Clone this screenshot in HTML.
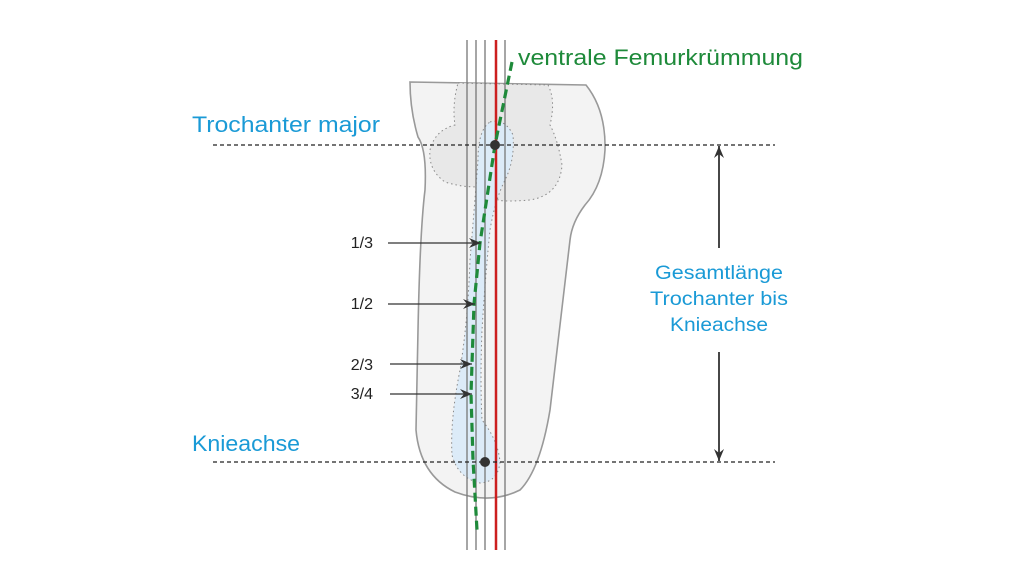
<!DOCTYPE html>
<html><head><meta charset="utf-8"><style>
html,body{margin:0;padding:0;background:#fff;}
svg{display:block;}
text{font-family:"Liberation Sans",sans-serif;}
</style></head><body>
<svg width="1024" height="576" viewBox="0 0 1024 576">
<defs>
<marker id="ah" markerWidth="14" markerHeight="12" refX="12" refY="6" orient="auto" markerUnits="userSpaceOnUse">
<path d="M0,1 L12,6 L0,11 L4,6 Z" fill="#333"/></marker>
</defs>
<path d="M410,82 L586,85 Q606,110 605,150 Q603,185 585,205 Q572,222 570,240 L550,410 Q540,470 520,490 Q490,505 455,492 Q420,475 416,430 L418,330 Q420,230 425,190 Q427,150 418,137 Q410,110 410,82 Z" fill="#f3f3f3" stroke="#999" stroke-width="1.6"/>
<path d="M458,83 L548,85 Q556,100 550,125 Q558,140 562,165 Q560,195 530,200 Q505,202 498,200 L495,185 Q470,190 445,182 Q428,170 430,150 Q435,130 455,125 Q452,105 458,83 Z" fill="#e8e8e8" stroke="#888" stroke-width="1" stroke-dasharray="1.5,3"/>
<path d="M490,122 Q505,118 513,135 Q515,160 505,180 Q495,200 490,230 Q485,280 482,330 Q480,380 482,420 Q498,440 500,462 Q498,482 480,483 Q458,478 452,455 Q450,420 460,370 Q468,320 470,260 Q475,200 478,160 Q478,130 490,122 Z" fill="#dcebf8" stroke="#888" stroke-width="1" stroke-dasharray="1.5,3"/>
<g stroke="#777" stroke-width="1.3">
<line x1="467" y1="40" x2="467" y2="550"/>
<line x1="476" y1="40" x2="476" y2="550"/>
<line x1="485" y1="40" x2="485" y2="550"/>
<line x1="505" y1="40" x2="505" y2="550"/>
</g>
<line x1="496" y1="40" x2="496" y2="550" stroke="#cc1f1f" stroke-width="2.5"/>
<g stroke="#222" stroke-width="1.2" stroke-dasharray="4,3">
<line x1="213" y1="145" x2="775" y2="145"/>
<line x1="213" y1="462" x2="775" y2="462"/>
</g>
<path d="M512,62 L495,145 L480,243 L474,304 L472,364 L471,394 L473,460 L477,530" fill="none" stroke="#1e8a3a" stroke-width="3.2" stroke-dasharray="9,5"/>
<circle cx="495" cy="145" r="5" fill="#333"/>
<circle cx="485" cy="462" r="5" fill="#333"/>
<g stroke="#333" stroke-width="1.3" fill="none">
<line x1="388" y1="243" x2="481" y2="243" marker-end="url(#ah)"/>
<line x1="388" y1="304" x2="475" y2="304" marker-end="url(#ah)"/>
<line x1="390" y1="364" x2="472" y2="364" marker-end="url(#ah)"/>
<line x1="390" y1="394" x2="472" y2="394" marker-end="url(#ah)"/>
<line x1="719" y1="248" x2="719" y2="146" stroke-width="1.8" marker-end="url(#ah)"/>
<line x1="719" y1="352" x2="719" y2="461" stroke-width="1.8" marker-end="url(#ah)"/>
</g>
<g font-size="16" fill="#222" text-anchor="end">
<text x="373" y="248">1/3</text>
<text x="373" y="309">1/2</text>
<text x="373" y="370">2/3</text>
<text x="373" y="399">3/4</text>
</g>
<g fill="#1a9ad6" font-size="22">
<text x="192" y="132" textLength="188" lengthAdjust="spacingAndGlyphs">Trochanter major</text>
<text x="192" y="451" textLength="108" lengthAdjust="spacingAndGlyphs">Knieachse</text>
</g>
<g fill="#1a9ad6" font-size="19" text-anchor="middle">
<text x="719" y="279" textLength="128" lengthAdjust="spacingAndGlyphs">Gesamtlänge</text>
<text x="719" y="305" textLength="138" lengthAdjust="spacingAndGlyphs">Trochanter bis</text>
<text x="719" y="331" textLength="98" lengthAdjust="spacingAndGlyphs">Knieachse</text>
</g>
<text x="518" y="65" fill="#1e8a3a" font-size="22" textLength="285" lengthAdjust="spacingAndGlyphs">ventrale Femurkrümmung</text>
</svg>
</body></html>
